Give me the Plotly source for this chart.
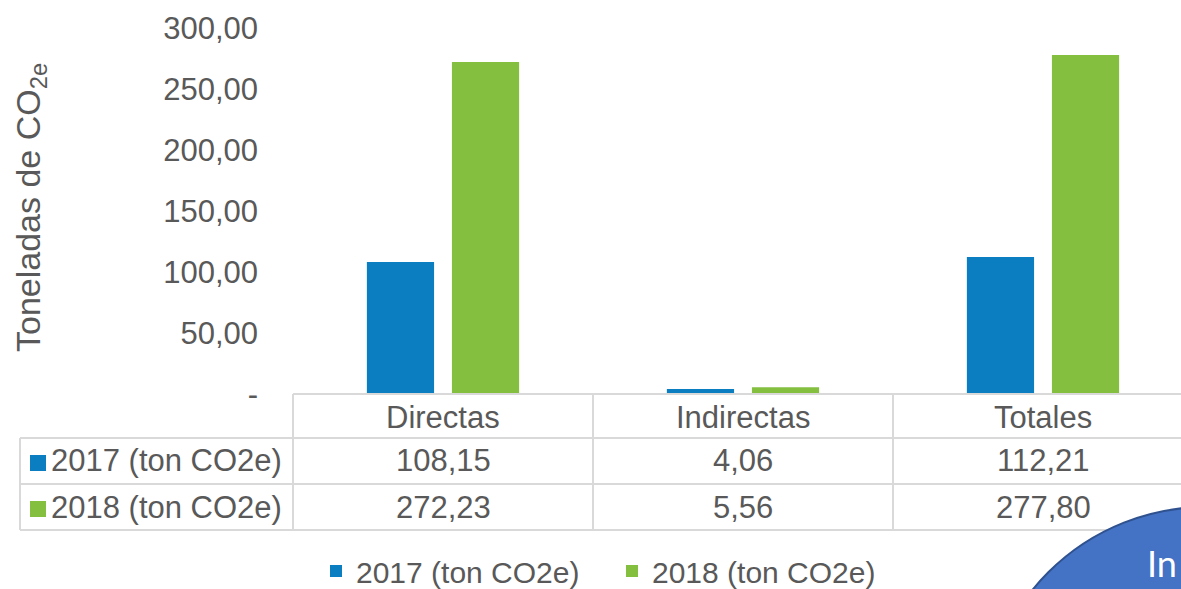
import plotly.graph_objects as go

# data
categorias = ["Directas", "Indirectas", "Totales"]
series = ["2017 (ton CO2e)", "2018 (ton CO2e)"]
valores_2017 = [108.15, 4.06, 112.21]
valores_2018 = [272.23, 5.56, 277.80]
ticks_y = [0, 50, 100, 150, 200, 250, 300]
ticks_y_txt = ["-", "50,00", "100,00", "150,00", "200,00", "250,00", "300,00"]

W, H = 1181, 589
AZUL = "#0B7EC2"
VERDE = "#85BF40"
GRIS = "#595959"
LINEA = "#D9D9D9"
FUENTE = "Liberation Sans, Arial, sans-serif"
TAM = 31


def px(x):
    # pixel -> paper fraction
    return x / W


def py(y):
    return 1 - y / H


def fmt(v):
    return f"{v:.2f}".replace(".", ",")


fig = go.Figure()
fig.add_trace(go.Bar(x=categorias, y=valores_2017, name=series[0], marker=dict(color=AZUL, line=dict(width=0))))
fig.add_trace(go.Bar(x=categorias, y=valores_2018, name=series[1], marker=dict(color=VERDE, line=dict(width=0))))

shapes = []
annotations = []

# table grid under the bars
def hline(y, x0, x1):
    shapes.append(dict(type="line", xref="paper", yref="paper", x0=px(x0), x1=px(x1), y0=py(y), y1=py(y),
                       line=dict(color=LINEA, width=2)))


def vline(x, y0, y1):
    shapes.append(dict(type="line", xref="paper", yref="paper", x0=px(x), x1=px(x), y0=py(y0), y1=py(y1),
                       line=dict(color=LINEA, width=2)))


hline(394, 293, W)
hline(438, 20, W)
hline(484, 20, W)
hline(530, 20, W)
vline(20, 438, 530)
for xc in [293, 593, 893]:
    vline(xc, 394, 530)

# header row (categories)
for c in categorias:
    annotations.append(dict(x=c, y=py(417), xref="x", yref="paper", text=c, showarrow=False,
                            xanchor="center", yanchor="middle",
                            font=dict(size=TAM, color=GRIS, family=FUENTE)))

# value rows
filas = [(series[0], valores_2017, AZUL, 461), (series[1], valores_2018, VERDE, 507)]
for nombre, vals, col, yc in filas:
    shapes.append(dict(type="rect", xref="paper", yref="paper", x0=px(30), x1=px(46), y0=py(yc - 6), y1=py(yc + 10),
                       fillcolor=col, line=dict(width=0)))
    annotations.append(dict(x=px(49), y=py(yc), xref="paper", yref="paper", text=nombre, showarrow=False,
                            xanchor="left", yanchor="middle", font=dict(size=TAM, color=GRIS, family=FUENTE)))
    for c, v in zip(categorias, vals):
        annotations.append(dict(x=c, y=py(yc), xref="x", yref="paper", text=fmt(v), showarrow=False,
                                xanchor="center", yanchor="middle",
                                font=dict(size=TAM, color=GRIS, family=FUENTE)))

# y axis title
annotations.append(dict(x=px(30), y=py(208), xref="paper", yref="paper", text="Toneladas de CO<sub>2e</sub>",
                        textangle=-90, showarrow=False, xanchor="center", yanchor="middle",
                        font=dict(size=34, color=GRIS, family=FUENTE)))

# blue bubble at bottom right
shapes.append(dict(type="circle", xref="paper", yref="paper", x0=px(983), x1=px(1429), y0=py(953), y1=py(507),
                   fillcolor="#4472C4", line=dict(color="#2F528F", width=2)))
annotations.append(dict(x=px(1145), y=py(563), xref="paper", yref="paper", text="In", showarrow=False,
                        xanchor="left", yanchor="middle",
                        font=dict(size=36, color="white", family="Lato, sans-serif")))

fig.update_layout(
    width=W, height=H, autosize=False,
    margin=dict(l=0, r=0, t=0, b=0, autoexpand=False),
    plot_bgcolor="white", paper_bgcolor="white",
    barmode="group", bargap=0.433, bargroupgap=0.21,
    font=dict(family=FUENTE, color=GRIS, size=TAM),
    shapes=shapes, annotations=annotations,
    legend=dict(orientation="h", x=px(316), xanchor="left", y=py(571), yanchor="middle",
                entrywidth=251, font=dict(size=30, color=GRIS), bgcolor="rgba(0,0,0,0)"),
    xaxis=dict(domain=[px(293), 1], range=[-0.5, -0.5 + (W - 293) / 300], showticklabels=False,
               showgrid=False, zeroline=False, showline=False),
    yaxis=dict(domain=[py(394), py(28)], range=[0, 300], tickvals=ticks_y, ticktext=ticks_y_txt,
               showgrid=False, zeroline=False, showline=False, ticklabelstandoff=34,
               tickfont=dict(size=TAM, color=GRIS)),
)

# the page body has a default 8px margin; drop it so the figure fills the window
fig.write_html("out.html", config={"displayModeBar": False},
               post_script="document.body.style.margin='0';document.body.style.overflow='hidden';")
